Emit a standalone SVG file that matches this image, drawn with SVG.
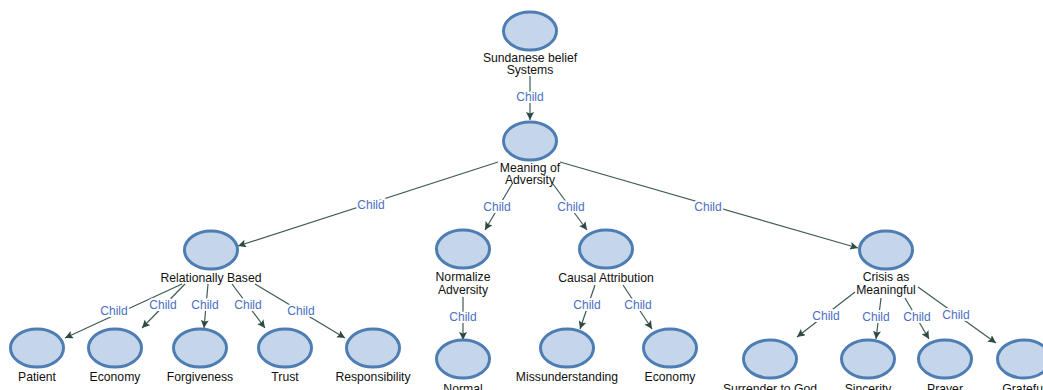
<svg xmlns="http://www.w3.org/2000/svg" width="1043" height="390" viewBox="0 0 1043 390">
<style>
.n ellipse{fill:#c5d6ea;stroke:#4d7db3;stroke-width:3}
.n text{font-family:"Liberation Sans",Arial,sans-serif;font-size:12.2px;fill:#111;text-anchor:middle}
.e line{stroke:#3e5a55;stroke-width:1.2;marker-end:url(#a)}
.e text{font-family:"Liberation Sans",Arial,sans-serif;font-size:12px;fill:#4b6fc4;text-anchor:middle;stroke:#fff;stroke-width:4px;paint-order:stroke;stroke-linejoin:round}
</style>
<defs>
<marker id="a" viewBox="0 0 10 10" refX="10" refY="5" markerWidth="8" markerHeight="8" markerUnits="userSpaceOnUse" orient="auto">
<path d="M0,0 L10,5 L0,10 L2,5 z" fill="#2f4a45"/>
</marker>
</defs>
<rect width="1043" height="390" fill="#fff"/>
<g id="edges" class="e">
<line x1="530" y1="76" x2="530" y2="120"/><text x="530" y="101">Child</text>
<line x1="498" y1="162" x2="238" y2="246"/><text x="371" y="209">Child</text>
<line x1="512" y1="184" x2="485" y2="230"/><text x="497" y="211">Child</text>
<line x1="553" y1="184" x2="587" y2="230"/><text x="571" y="211">Child</text>
<line x1="560" y1="162" x2="858" y2="248"/><text x="708" y="211">Child</text>
<line x1="182" y1="284" x2="65" y2="338"/><text x="114" y="315">Child</text>
<line x1="185" y1="284" x2="142" y2="328"/><text x="163" y="309">Child</text>
<line x1="208" y1="284" x2="204" y2="328"/><text x="205" y="309">Child</text>
<line x1="232" y1="284" x2="265" y2="328"/><text x="248" y="309">Child</text>
<line x1="255" y1="284" x2="345" y2="338"/><text x="301" y="315">Child</text>
<line x1="463" y1="297" x2="463" y2="340"/><text x="463" y="321">Child</text>
<line x1="595" y1="285" x2="580" y2="329"/><text x="587" y="309">Child</text>
<line x1="623" y1="285" x2="652" y2="329"/><text x="638" y="309">Child</text>
<line x1="855" y1="292" x2="797" y2="337"/><text x="826" y="320">Child</text>
<line x1="881" y1="298" x2="876" y2="339"/><text x="876" y="321">Child</text>
<line x1="905" y1="298" x2="929" y2="339"/><text x="917" y="321">Child</text>
<line x1="918" y1="287" x2="996" y2="343"/><text x="956" y="319">Child</text>
</g>
<g id="n-sundanese" class="n"><ellipse cx="530" cy="31" rx="26.5" ry="19"/><text x="530" y="62">Sundanese belief</text><text x="530" y="74">Systems</text></g>
<g id="n-meaning" class="n"><ellipse cx="530" cy="141" rx="26.5" ry="19"/><text x="530" y="172">Meaning of</text><text x="530" y="184">Adversity</text></g>
<g id="n-relational" class="n"><ellipse cx="211" cy="250" rx="26.5" ry="19"/><text x="211" y="282">Relationally Based</text></g>
<g id="n-normalize" class="n"><ellipse cx="463" cy="249" rx="26.5" ry="19"/><text x="463" y="281">Normalize</text><text x="463" y="294">Adversity</text></g>
<g id="n-causal" class="n"><ellipse cx="606" cy="249" rx="26.5" ry="19"/><text x="606" y="282">Causal Attribution</text></g>
<g id="n-crisis" class="n"><ellipse cx="886" cy="250" rx="26.5" ry="19"/><text x="886" y="281">Crisis as</text><text x="886" y="294">Meaningful</text></g>
<g id="n-patient" class="n"><ellipse cx="37" cy="348" rx="26.5" ry="19"/><text x="37" y="381">Patient</text></g>
<g id="n-economy1" class="n"><ellipse cx="115" cy="348" rx="26.5" ry="19"/><text x="115" y="381">Economy</text></g>
<g id="n-forgiveness" class="n"><ellipse cx="200" cy="348" rx="26.5" ry="19"/><text x="200" y="381">Forgiveness</text></g>
<g id="n-trust" class="n"><ellipse cx="285" cy="348" rx="26.5" ry="19"/><text x="285" y="381">Trust</text></g>
<g id="n-responsibility" class="n"><ellipse cx="373" cy="348" rx="26.5" ry="19"/><text x="373" y="381">Responsibility</text></g>
<g id="n-normal" class="n"><ellipse cx="463" cy="359" rx="26.5" ry="19"/><text x="463" y="393">Normal</text></g>
<g id="n-missunderstanding" class="n"><ellipse cx="567" cy="348" rx="26.5" ry="19"/><text x="567" y="381">Missunderstanding</text></g>
<g id="n-economy2" class="n"><ellipse cx="670" cy="348" rx="26.5" ry="19"/><text x="670" y="381">Economy</text></g>
<g id="n-surrender" class="n"><ellipse cx="770" cy="359" rx="26.5" ry="19"/><text x="770" y="393">Surrender to God</text></g>
<g id="n-sincerity" class="n"><ellipse cx="868" cy="359" rx="26.5" ry="19"/><text x="868" y="393">Sincerity</text></g>
<g id="n-prayer" class="n"><ellipse cx="945" cy="359" rx="26.5" ry="19"/><text x="945" y="393">Prayer</text></g>
<g id="n-grateful" class="n"><ellipse cx="1024" cy="359" rx="26.5" ry="19"/><text x="1024" y="393">Grateful</text></g>
</svg>
